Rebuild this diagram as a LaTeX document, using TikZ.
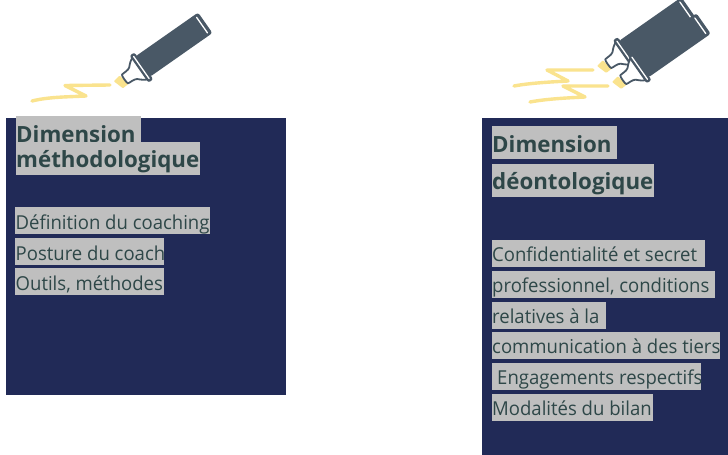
\documentclass[tikz,border=0pt]{standalone}
\usepackage{fontspec}
\setmainfont{Open Sans}
\newfontfamily\bodyfam[FakeStretch=0.965]{Open Sans}
\definecolor{navy}{HTML}{212A57}
\definecolor{hlgrey}{HTML}{BFBFBF}
\definecolor{inkgreen}{HTML}{2E4748}
\definecolor{slate}{HTML}{495866}
\definecolor{marker}{HTML}{FAE38E}
\tikzset{
  x=1pt,y=1pt,
  panel/.style={fill=navy},
  hl/.style={fill=hlgrey},
  headtext/.style={anchor=base west,inner sep=0pt,text=inkgreen,font=\fontsize{22.3}{22.3}\selectfont\bfseries},
  bodytext/.style={anchor=base west,inner sep=0pt,text=inkgreen,font=\bodyfam\fontsize{19.2}{19.2}\selectfont},
  squiggle/.style={draw=marker,line width=3.4pt,line cap=round,line join=round,fill=none}
}
% name, x1, y1, x2, y2, baseline y, text x, style, text
\newcommand{\hlrow}[9]{%
  \fill[hl] (#2,-#3) rectangle (#4,-#5);
  \node[#8] (#1) at (#7,-#6) {#9};
}
\newcommand{\penpic}[2]{%
  \begin{scope}[shift={(#1,-#2)},rotate=35]
    \fill[marker,rounded corners=0.8pt] (-10.5,4.6) -- (-2.5,6) -- (0,-6) -- (-7,-6.4) -- cycle;
    \draw[slate,line width=1.8pt,fill=white,line join=round]
      (0,-5.3) .. controls (3,-6) and (7,-5) .. (10,-7) .. controls (13,-10) and (15,-12) .. (19,-13.5) -- (19,13.5) .. controls (15,12) and (13,10) .. (10,7) .. controls (7,5) and (3,6) .. (0,5.3) .. controls (-1,5) and (-1,-5) .. (0,-5.3) -- cycle;
    \fill[slate,rounded corners=2pt] (22,-12.5) rectangle (92,12.5);
    \fill[slate,rounded corners=2.5pt] (88,-12.5) rectangle (98,12.5);
    \draw[white,line width=1.3pt,line cap=round] (94,-9.5) -- (94,9.5);
    \fill[slate,rounded corners=2.4pt] (17,-16.5) rectangle (23,16.5);
    \draw[white,line width=1.3pt,line cap=round] (20,-13.5) -- (20,13.5);
  \end{scope}%
}
\begin{document}
\begin{tikzpicture}
\path[use as bounding box,clip] (0,0) rectangle (728,-455);
\fill[white] (0,0) rectangle (728,-455);
% panels
\fill[panel] (6,-118) rectangle (286,-395);
\fill[panel] (482,-118) rectangle (728,-455);
% left marker
\draw[squiggle] (32,-101) .. controls (48,-97) and (65,-97) .. (86,-96) -- (65,-85.5) -- (110,-85);
\penpic{125}{79}
% right markers
\draw[squiggle] (514,-86) .. controls (530,-83) and (550,-82) .. (568,-81) -- (547,-70) -- (593,-70);
\draw[squiggle] (530,-102) .. controls (546,-99) and (565,-98) .. (585,-97) -- (563,-86) -- (608,-86);
\penpic{608.3}{63.7}
\penpic{623.3}{79.7}
% left texts
\hlrow{la}{16}{116}{141}{142}{142}{16}{headtext}{Dimension}
\hlrow{lb}{16}{142}{200}{175}{167.5}{16}{headtext}{méthodologique}
\hlrow{lc}{15}{207}{210}{234}{229}{15.5}{bodytext}{Définition du coaching}
\hlrow{ld}{15}{238}{164}{265}{260}{15.5}{bodytext}{Posture du coach}
\hlrow{le}{15}{268}{164}{295}{290}{15.5}{bodytext}{Outils, méthodes}
% right texts
\hlrow{ra}{492}{126}{617}{159}{152}{492}{headtext}{Dimension}
\hlrow{rb}{492}{164}{654}{197}{189.5}{492}{headtext}{déontologique}
\hlrow{rc}{492}{240}{705}{267}{261}{492}{bodytext}{Confidentialité et secret}
\hlrow{rd}{492}{271}{715}{298}{292.5}{492}{bodytext}{professionnel, conditions}
\hlrow{re}{492}{302}{606}{329}{323.5}{492}{bodytext}{relatives à la}
\hlrow{rf}{492}{332}{720}{359}{353.5}{492}{bodytext}{communication à des tiers}
\hlrow{rg}{492}{363}{701}{390}{384.5}{497}{bodytext}{Engagements respectifs}
\hlrow{rh}{492}{394}{653}{421}{415.5}{492}{bodytext}{Modalités du bilan}
\end{tikzpicture}
\end{document}
